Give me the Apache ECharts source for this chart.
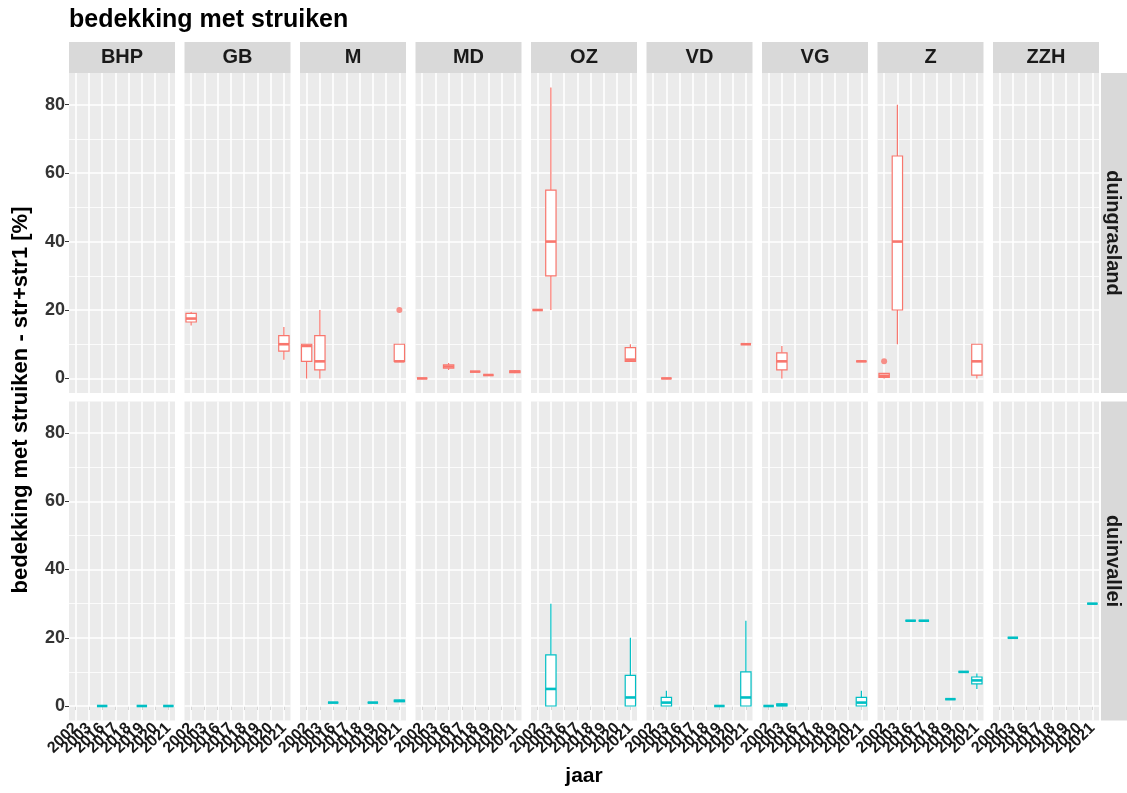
<!DOCTYPE html>
<html><head><meta charset="utf-8">
<script src="https://cdn.jsdelivr.net/npm/echarts@6/dist/echarts.min.js"></script>
<style>html,body{margin:0;padding:0;background:#fff}#c{width:1127px;height:793px}</style>
</head><body><div id="c"></div>
<script>
const sites = ['BHP','GB','M','MD','OZ','VD','VG','Z','ZZH'];
const habitats = ['duingrasland','duinvallei'];
const years = ['2002','2003','2016','2017','2018','2019','2020','2021'];
const yTicks = [0,20,40,60,80];
const yMinor = [10,30,50,70];

// [site, year, min, Q1, median, Q3, max]
const grasBoxes = [
  ['GB','2002',15.5,16.5,17.5,19,19.5],
  ['GB','2021',5.5,8,10,12.5,15],
  ['M','2002',0,5,9.5,10,10],
  ['M','2003',0,2.5,5,12.5,20],
  ['M','2021',5,5,5,10,10],
  ['MD','2002',0,0,0,0,0],
  ['MD','2016',2.5,3,3.5,4,4.5],
  ['MD','2018',2,2,2,2,2],
  ['MD','2019',1,1,1,1,1],
  ['MD','2021',1.5,1.7,2,2.2,2.5],
  ['OZ','2002',20,20,20,20,20],
  ['OZ','2003',20,30,40,55,85],
  ['OZ','2021',5,5,5.5,9,10],
  ['VD','2003',0,0,0,0,0],
  ['VD','2021',10,10,10,10,10],
  ['VG','2003',0,2.5,5,7.5,9.5],
  ['VG','2021',5,5,5,5,5],
  ['Z','2002',0,0.3,0.8,1.5,1.5],
  ['Z','2003',10,20,40,65,80],
  ['Z','2021',0,1,5,10,10]
];
// [site, year, value]
const grasOutliers = [['M','2021',20],['Z','2002',5]];

const valleiBoxes = [
  ['BHP','2016',0,0,0,0,0],
  ['BHP','2019',0,0,0,0,0],
  ['BHP','2021',0,0,0,0,0],
  ['M','2016',1,1,1,1,1],
  ['M','2019',1,1,1,1,1],
  ['M','2021',1.2,1.3,1.5,1.7,1.8],
  ['OZ','2003',0,0,5,15,30],
  ['OZ','2021',0,0,2.5,9,20],
  ['VD','2003',0,0,1,2.5,4.5],
  ['VD','2019',0,0,0,0,0],
  ['VD','2021',0,0,2.5,10,25],
  ['VG','2002',0,0,0,0,0],
  ['VG','2003',0,0,0.3,0.6,0.8],
  ['VG','2021',0,0,1,2.5,4.5],
  ['Z','2016',25,25,25,25,25],
  ['Z','2017',25,25,25,25,25],
  ['Z','2019',2,2,2,2,2],
  ['Z','2020',10,10,10,10,10],
  ['Z','2021',5,6.5,7.5,8.5,9.5],
  ['ZZH','2003',20,20,20,20,20],
  ['ZZH','2021',30,30,30,30,30]
];
const valleiOutliers = [];

// ---- layout / style ----
const FONT = '"Liberation Sans", Arial, sans-serif';
const colLeft0 = 69, colW = 106, colStep = 115.5;
const rowTop = [73, 401.5], rowH = [320, 319];
const colors = ['#F8766D', '#00BFC4'];
const boxesByRow = [grasBoxes, valleiBoxes];
const outByRow = [grasOutliers, valleiOutliers];

function makeRenderer(color) {
  return function (params, api) {
    const xi = api.value(0);
    const pLo = api.coord([xi, api.value(1)]);
    const pQ1 = api.coord([xi, api.value(2)]);
    const pMd = api.coord([xi, api.value(3)]);
    const pQ3 = api.coord([xi, api.value(4)]);
    const pHi = api.coord([xi, api.value(5)]);
    const bw = api.size([1, 0])[0] * 0.78;
    const cx = pMd[0], h = bw / 2;
    return { type: 'group', children: [
      { type: 'line', shape: { x1: cx, y1: pHi[1], x2: cx, y2: pQ3[1] }, style: { stroke: color, lineWidth: 1.2 } },
      { type: 'line', shape: { x1: cx, y1: pQ1[1], x2: cx, y2: pLo[1] }, style: { stroke: color, lineWidth: 1.2 } },
      { type: 'rect', shape: { x: cx - h, y: pQ3[1], width: bw, height: pQ1[1] - pQ3[1] }, style: { fill: '#ffffff', stroke: color, lineWidth: 1.2 } },
      { type: 'line', shape: { x1: cx - h, y1: pMd[1], x2: cx + h, y2: pMd[1] }, style: { stroke: color, lineWidth: 2.6 } }
    ]};
  };
}

const grids = [], xAxes = [], yAxes = [], series = [], graphics = [];
const gridLineData = [];
yTicks.forEach(v => gridLineData.push({ yAxis: v, lineStyle: { color: '#ffffff', width: 1.6, type: 'solid' } }));
yMinor.forEach(v => gridLineData.push({ yAxis: v, lineStyle: { color: '#ffffff', width: 0.8, type: 'solid' } }));
years.forEach(y => gridLineData.push({ xAxis: y, lineStyle: { color: '#ffffff', width: 1.6, type: 'solid' } }));

for (let r = 0; r < 2; r++) {
  for (let c = 0; c < sites.length; c++) {
    const gi = r * sites.length + c;
    const left = colLeft0 + c * colStep;
    grids.push({ left: left, top: rowTop[r], width: colW, height: rowH[r], show: true,
      backgroundColor: '#EBEBEB', borderWidth: 0, containLabel: false, outerBoundsMode: 'none' });
    xAxes.push({ type: 'category', gridIndex: gi, data: years,
      axisLine: { show: false },
      axisTick: { show: r === 1, alignWithLabel: true, length: 4, lineStyle: { color: '#333333', width: 1 } },
      axisLabel: { show: r === 1, rotate: 45, interval: 0, margin: 5, fontSize: 16, fontWeight: 'bold', color: '#1a1a1a', fontFamily: FONT },
      splitLine: { show: false } });
    yAxes.push({ type: 'value', gridIndex: gi, min: -4.25, max: 89.25,
      axisLine: { show: false },
      axisTick: { show: c === 0, customValues: yTicks, length: 4, lineStyle: { color: '#333333', width: 1 } },
      axisLabel: { show: c === 0, customValues: yTicks, margin: 4, fontSize: 18, fontWeight: 'bold', color: '#333333', fontFamily: FONT },
      splitLine: { show: false }, minorSplitLine: { show: false } });

    series.push({ type: 'line', xAxisIndex: gi, yAxisIndex: gi, data: [], silent: true, z: 1,
      markLine: { silent: true, z: 1, symbol: 'none', animation: false, label: { show: false },
        emphasis: { disabled: true }, data: gridLineData } });

    const boxes = boxesByRow[r].filter(b => b[0] === sites[c])
      .map(b => [years.indexOf(b[1]), b[2], b[3], b[4], b[5], b[6]]);
    series.push({ type: 'custom', xAxisIndex: gi, yAxisIndex: gi, z: 3, silent: true,
      encode: { x: 0, y: [1, 2, 3, 4, 5] },
      renderItem: makeRenderer(colors[r]), data: boxes });

    const outs = outByRow[r].filter(o => o[0] === sites[c]).map(o => [o[1], o[2]]);
    series.push({ type: 'scatter', xAxisIndex: gi, yAxisIndex: gi, z: 4, silent: true,
      symbol: 'circle', symbolSize: 6, itemStyle: { color: colors[r] }, data: outs });
  }
}

// strips on top
for (let c = 0; c < sites.length; c++) {
  const left = colLeft0 + c * colStep;
  graphics.push({ type: 'rect', shape: { x: left, y: 42, width: colW, height: 31 }, style: { fill: '#D9D9D9' }, silent: true });
  graphics.push({ type: 'text', x: left + colW / 2, y: 57.5, silent: true,
    style: { text: sites[c], font: 'bold 20px ' + FONT, fill: '#1a1a1a', align: 'center', verticalAlign: 'middle', textAlign: 'center', textVerticalAlign: 'middle' } });
}
// strips on right
for (let r = 0; r < 2; r++) {
  graphics.push({ type: 'rect', shape: { x: 1101, y: rowTop[r], width: 32, height: rowH[r] }, style: { fill: '#D9D9D9' }, silent: true });
  graphics.push({ type: 'text', x: 1113, y: rowTop[r] + rowH[r] / 2, rotation: -Math.PI / 2, silent: true,
    style: { text: habitats[r], font: 'bold 20px ' + FONT, fill: '#1a1a1a', align: 'center', verticalAlign: 'middle', textAlign: 'center', textVerticalAlign: 'middle' } });
}
// titles
graphics.push({ type: 'text', x: 69, y: 20, silent: true,
  style: { text: 'bedekking met struiken', font: 'bold 25px ' + FONT, fill: '#000000', align: 'left', verticalAlign: 'middle', textAlign: 'left', textVerticalAlign: 'middle' } });
graphics.push({ type: 'text', x: 584, y: 776, silent: true,
  style: { text: 'jaar', font: 'bold 21px ' + FONT, fill: '#000000', align: 'center', verticalAlign: 'middle', textAlign: 'center', textVerticalAlign: 'middle' } });
graphics.push({ type: 'text', x: 21, y: 400, rotation: Math.PI / 2, silent: true,
  style: { text: 'bedekking met struiken - str+str1 [%]', font: 'bold 22px ' + FONT, fill: '#000000', align: 'center', verticalAlign: 'middle', textAlign: 'center', textVerticalAlign: 'middle' } });

const chart = echarts.init(document.getElementById('c'), null, { renderer: 'canvas' });
chart.setOption({
  animation: false,
  backgroundColor: '#ffffff',
  grid: grids, xAxis: xAxes, yAxis: yAxes, series: series, graphic: graphics
});
</script></body></html>
